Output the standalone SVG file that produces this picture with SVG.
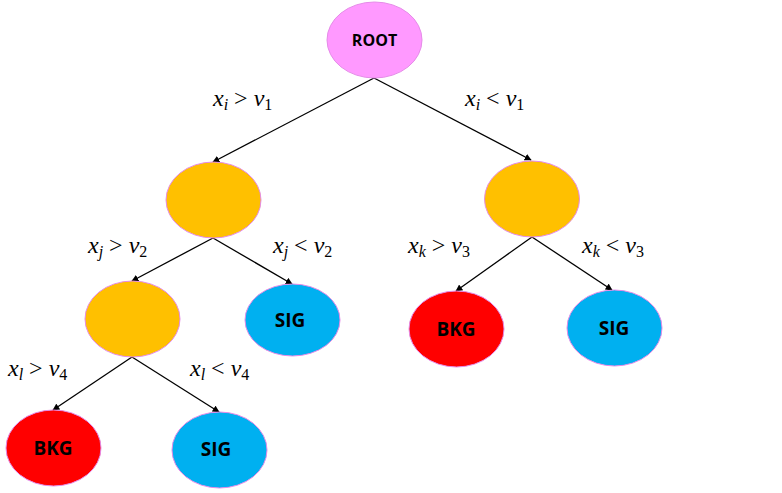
<svg xmlns="http://www.w3.org/2000/svg" width="782" height="493" viewBox="0 0 782 493">
<style>
.n{stroke:#e58be8;stroke-width:1}
.root{fill:#ff99ff}
.mid{fill:#ffc000}
.sig{fill:#00b0f0}
.bkg{fill:#ff0000}
.lbl{font-family:"Open Sans","Liberation Sans",sans-serif;font-weight:bold;fill:#000;text-anchor:middle}
.m{font-family:"Liberation Serif",serif;font-style:italic;font-size:24px;fill:#000}
.op{font-style:normal}
.sub{font-size:16px}
.e{stroke:#000;stroke-width:1.3;fill:none;marker-end:url(#ah)}
</style>
<defs>
<marker id="ah" viewBox="0 0 10 10" refX="9" refY="5" markerWidth="7" markerHeight="7" markerUnits="userSpaceOnUse" orient="auto">
<path d="M0,0 L10,5 L0,10 z" fill="#000"/>
</marker>
</defs>
<rect width="782" height="493" fill="#fff"/>
<g id="connectors">
<line class="e" x1="374" y1="78" x2="213" y2="162"/>
<line class="e" x1="374" y1="78" x2="531" y2="160"/>
<line class="e" x1="213" y1="238" x2="132" y2="281"/>
<line class="e" x1="213" y1="238" x2="292" y2="284"/>
<line class="e" x1="532" y1="237" x2="456" y2="291"/>
<line class="e" x1="532" y1="237" x2="612" y2="290"/>
<line class="e" x1="132" y1="357" x2="53" y2="410"/>
<line class="e" x1="132" y1="357" x2="219" y2="412"/>
</g>
<g id="root"><ellipse class="n root" cx="374.5" cy="40" rx="47.5" ry="38"/><text class="lbl" x="374.5" y="46" font-size="16">ROOT</text></g>
<g id="n1"><ellipse class="n mid" cx="213.5" cy="200" rx="47.5" ry="38"/></g>
<g id="n2"><ellipse class="n mid" cx="532" cy="199" rx="47.5" ry="38"/></g>
<g id="n3"><ellipse class="n mid" cx="132.5" cy="319" rx="47.5" ry="38"/></g>
<g id="sig1"><ellipse class="n sig" cx="292.5" cy="320" rx="47.5" ry="36"/><text class="lbl" x="290" y="327" font-size="19">SIG</text></g>
<g id="bkg1"><ellipse class="n bkg" cx="456.5" cy="329" rx="47.5" ry="38"/><text class="lbl" x="456" y="336" font-size="19">BKG</text></g>
<g id="sig2"><ellipse class="n sig" cx="614.5" cy="328" rx="47.5" ry="38"/><text class="lbl" x="614" y="335" font-size="19">SIG</text></g>
<g id="bkg2"><ellipse class="n bkg" cx="53.5" cy="448" rx="47.5" ry="38"/><text class="lbl" x="53" y="455" font-size="19">BKG</text></g>
<g id="sig3"><ellipse class="n sig" cx="219.5" cy="450" rx="47.5" ry="38"/><text class="lbl" x="216" y="456" font-size="19">SIG</text></g>
<g id="labels">
<text class="m" x="213" y="106">x<tspan class="sub" dy="4">i</tspan><tspan class="op" dy="-4"> &gt; </tspan>v<tspan class="sub op" dy="4">1</tspan></text>
<text class="m" x="465" y="106">x<tspan class="sub" dy="4">i</tspan><tspan class="op" dy="-4"> &lt; </tspan>v<tspan class="sub op" dy="4">1</tspan></text>
<text class="m" x="88" y="253">x<tspan class="sub" dy="4">j</tspan><tspan class="op" dy="-4"> &gt; </tspan>v<tspan class="sub op" dy="4">2</tspan></text>
<text class="m" x="273" y="253">x<tspan class="sub" dy="4">j</tspan><tspan class="op" dy="-4"> &lt; </tspan>v<tspan class="sub op" dy="4">2</tspan></text>
<text class="m" x="408" y="253">x<tspan class="sub" dy="4">k</tspan><tspan class="op" dy="-4"> &gt; </tspan>v<tspan class="sub op" dy="4">3</tspan></text>
<text class="m" x="582" y="253">x<tspan class="sub" dy="4">k</tspan><tspan class="op" dy="-4"> &lt; </tspan>v<tspan class="sub op" dy="4">3</tspan></text>
<text class="m" x="8" y="376">x<tspan class="sub" dy="4">l</tspan><tspan class="op" dy="-4"> &gt; </tspan>v<tspan class="sub op" dy="4">4</tspan></text>
<text class="m" x="190" y="376">x<tspan class="sub" dy="4">l</tspan><tspan class="op" dy="-4"> &lt; </tspan>v<tspan class="sub op" dy="4">4</tspan></text>
</g>
</svg>
